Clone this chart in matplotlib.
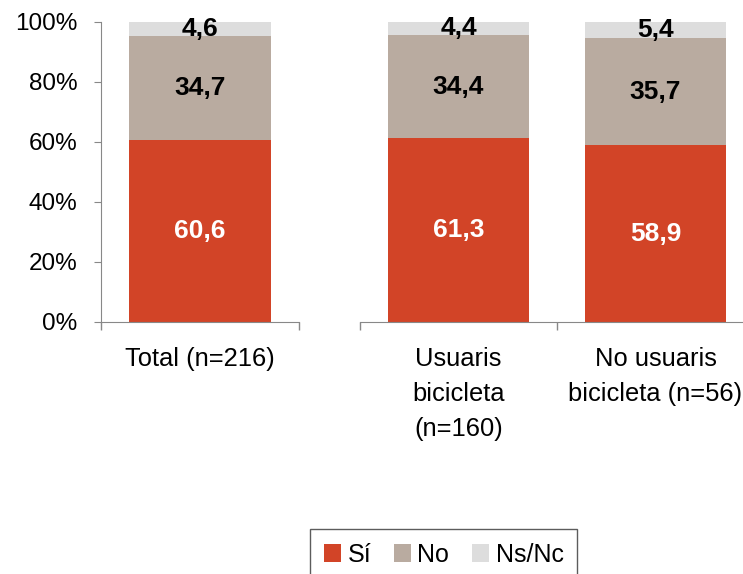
import matplotlib.pyplot as plt

plt.rcParams['font.family'] = ['Liberation Sans', 'DejaVu Sans']

# data
cats_left = ['Total (n=216)']
cats_right = ['Usuaris\nbicicleta\n(n=160)', 'No usuaris\nbicicleta (n=56)']
si_left = [60.6]
no_left = [34.7]
ns_left = [4.6]
si_right = [61.3, 58.9]
no_right = [34.4, 35.7]
ns_right = [4.4, 5.4]
series_names = ['Sí', 'No', 'Ns/Nc']
colors = ['#D24427', '#B9ABA0', '#DDDDDD']
text_colors = ['white', 'black', 'black']

W, H = 743, 574
fig = plt.figure(figsize=(W / 100, H / 100), dpi=100)

# two axes blocks, the right one runs past the figure edge like the original
ax1 = fig.add_axes([101 / W, (H - 322) / H, 198 / W, 300 / H])
ax2 = fig.add_axes([360 / W, (H - 322) / H, 394 / W, 300 / H])

fs = 19
spine_col = '#888888'


def draw(ax, cats, si, no, ns):
    x = list(range(len(cats)))
    bottoms = [0] * len(cats)
    bars = []
    for vals, col, tc in zip([si, no, ns], colors, text_colors):
        b = ax.bar(x, vals, width=0.716, bottom=bottoms, color=col, linewidth=0)
        bars.append(b)
        for xi, v, bt in zip(x, vals, bottoms):
            ax.text(xi, bt + v / 2, f'{v:.1f}'.replace('.', ','), ha='center', va='center',
                    fontsize=fs, fontweight='bold', color=tc)
        bottoms = [bt + v for bt, v in zip(bottoms, vals)]
    ax.set_xlim(-0.5, len(cats) - 0.5)
    ax.set_ylim(0, 100)
    ax.set_xticks([i - 0.5 for i in range(len(cats) + 1)])
    ax.set_xticklabels([])
    ax.set_xticks(x, minor=True)
    ax.set_xticklabels(cats, minor=True, fontsize=18.4, linespacing=1.57, va='top')
    ax.tick_params(axis='x', which='minor', length=0, pad=18)
    ax.tick_params(axis='x', which='major', length=6, direction='out', color=spine_col, width=1)
    for s in ['top', 'right']:
        ax.spines[s].set_visible(False)
    ax.spines['bottom'].set_color(spine_col)
    ax.spines['left'].set_color(spine_col)
    return bars


bars = draw(ax1, cats_left, si_left, no_left, ns_left)
draw(ax2, cats_right, si_right, no_right, ns_right)

ax1.set_yticks(range(0, 101, 20))
ax1.set_yticklabels([f'{v}%' for v in range(0, 101, 20)], fontsize=17.5)
ax1.tick_params(axis='y', length=5, color=spine_col, pad=12)

ax2.spines['left'].set_visible(False)
ax2.set_yticks([])

leg = fig.legend([b[0] for b in bars], series_names, loc='upper left',
                 bbox_to_anchor=(310 / W, 1 - 529 / H), ncol=3, fontsize=18,
                 handlelength=0.7, handleheight=0.7, handletextpad=0.25,
                 columnspacing=0.9, frameon=True, fancybox=False,
                 borderpad=0.55, borderaxespad=0)
leg.get_frame().set_edgecolor('#333333')
leg.get_frame().set_linewidth(1.0)

fig.savefig('out.png', dpi=100)
